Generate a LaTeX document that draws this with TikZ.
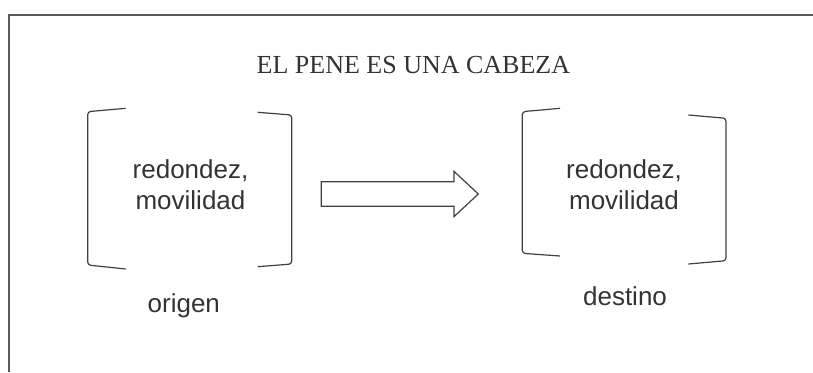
\documentclass[tikz,border=0pt]{standalone}
\usepackage{fontspec}
\setmainfont{Liberation Sans}
\newfontfamily\tituloserif{Liberation Serif}
\usetikzlibrary{shapes.arrows}
\begin{document}
\begin{tikzpicture}[x=1pt,y=-1pt]
    \tikzset{texto/.style={align=center,text=black!80,font=\fontsize{26}{30.7}\selectfont},
             corchete/.style={draw=black!75,line width=1.2pt,rounded corners=3pt}};
    \useasboundingbox (0,0) rectangle (813,372);
    \draw[line width=1.6pt,black!65] (9,372) -- (9,15) -- (813,15);
    \node[anchor=base,text=black!80,font=\tituloserif\fontsize{26}{30}\selectfont] (titulo) at (413.4,73.3) {EL PENE ES UNA CABEZA};
    % origen
    \draw[corchete] (125.7,108.3) -- (87.7,111.7) -- (87.7,265) -- (125.7,269);
    \draw[corchete] (257.7,112.3) -- (291.7,115) -- (291.7,264) -- (257.7,266.7);
    \node[texto] (rasgosA) at (190.5,184.4) {redondez,\\movilidad};
    \node[texto,anchor=base] (origen) at (183.8,312.7) {origen};
    % destino
    \draw[corchete] (560,108.3) -- (522.3,111.7) -- (522.3,253.3) -- (560,256);
    \draw[corchete] (688.3,115) -- (726,118.3) -- (726,260.7) -- (688.3,264);
    \node[texto] (rasgosB) at (624,184.4) {redondez,\\movilidad};
    \node[texto,anchor=base] (destino) at (625,305.7) {destino};
    % flecha
    \node[single arrow,draw=black!75,line width=1.2pt,inner xsep=0pt,inner ysep=11.7pt,minimum width=44pt,
          single arrow head extend=10.3pt,single arrow tip angle=86,minimum height=157pt] (flecha) at (393.2,194) {};
\end{tikzpicture}
\end{document}
